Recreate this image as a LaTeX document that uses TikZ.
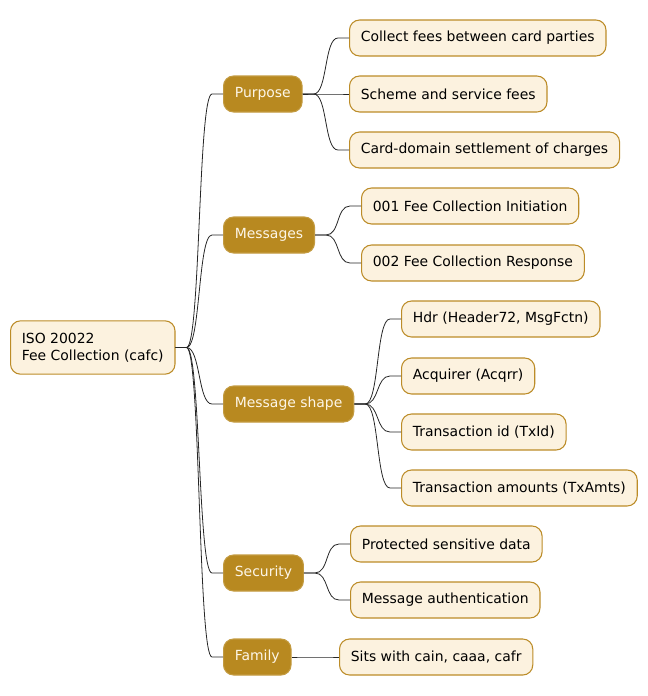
\documentclass[tikz,border=0pt]{standalone}
\usepackage{fontspec}
\setmainfont{DejaVu Sans}
\usetikzlibrary{calc}
\definecolor{branchfill}{RGB}{184,137,32}
\definecolor{leaffill}{RGB}{252,242,223}
\definecolor{leafdraw}{RGB}{188,140,40}
\definecolor{branchtext}{RGB}{253,246,232}
\tikzset{
  base/.style={rounded corners=7.5pt, minimum height=27pt, inner xsep=8.5pt, inner ysep=3pt, anchor=west, font=\fontsize{10.45pt}{12.7pt}\selectfont, line width=0.8pt},
  leafbox/.style={base, draw=leafdraw, fill=leaffill, text=black},
  branchbox/.style={base, draw=branchfill!85!white, fill=branchfill, text=branchtext},
  rootbox/.style={base, draw=leafdraw, fill=leaffill, text=black, align=left, minimum height=40pt},
  link/.style={draw=black!85, line width=0.6pt}
}
\newcommand{\conn}[2]{\draw[link] (#1.east) -- ++(11,0) .. controls +(14,0) and +(-14,0) .. ($(#2.west)+(-11,0)$) -- (#2.west);}
\begin{document}
\begin{tikzpicture}[x=0.75pt,y=-0.75pt]
\useasboundingbox (0,0) rectangle (648,696);
\node[rootbox] (root) at (10,347.5) {ISO 20022\\Fee Collection (cafc)};
\node[branchbox] (pur) at (223,94) {Purpose};
\node[branchbox] (msg) at (223,235) {Messages};
\node[branchbox] (shp) at (223,404) {Message shape};
\node[branchbox] (sec) at (223,573) {Security};
\node[branchbox] (fam) at (223,657) {Family};
\node[leafbox] (p1) at (349,38) {Collect fees between card parties};
\node[leafbox] (p2) at (349,94) {Scheme and service fees};
\node[leafbox] (p3) at (349,150) {Card-domain settlement of charges};
\node[leafbox] (m1) at (361,206) {001 Fee Collection Initiation};
\node[leafbox] (m2) at (361,263) {002 Fee Collection Response};
\node[leafbox] (s1) at (401,319) {Hdr (Header72, MsgFctn)};
\node[leafbox] (s2) at (401,376) {Acquirer (Acqrr)};
\node[leafbox] (s3) at (401,432) {Transaction id (TxId)};
\node[leafbox] (s4) at (401,488) {Transaction amounts (TxAmts)};
\node[leafbox] (c1) at (350,544) {Protected sensitive data};
\node[leafbox] (c2) at (350,600) {Message authentication};
\node[leafbox] (f1) at (339,657) {Sits with cain, caaa, cafr};
\conn{root}{pur}
\conn{root}{msg}
\conn{root}{shp}
\conn{root}{sec}
\conn{root}{fam}
\conn{pur}{p1}
\conn{pur}{p2}
\conn{pur}{p3}
\conn{msg}{m1}
\conn{msg}{m2}
\conn{shp}{s1}
\conn{shp}{s2}
\conn{shp}{s3}
\conn{shp}{s4}
\conn{sec}{c1}
\conn{sec}{c2}
\conn{fam}{f1}
\end{tikzpicture}
\end{document}
